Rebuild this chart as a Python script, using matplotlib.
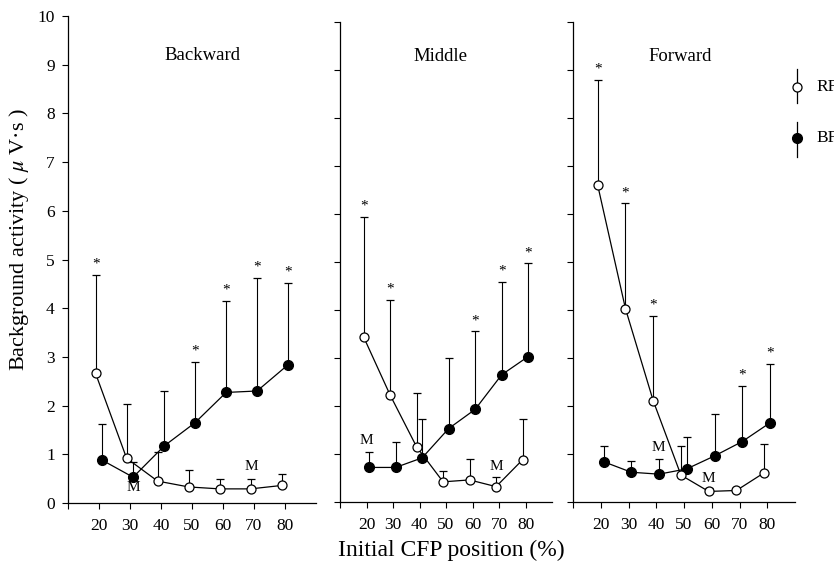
"background activity vs initial CFP position, 3 panels"
import numpy as np
import matplotlib.pyplot as plt

plt.rcParams['font.family'] = ['Liberation Serif', 'DejaVu Serif']
plt.rcParams['mathtext.fontset'] = 'stix'

"data"
positions = [20, 30, 40, 50, 60, 70, 80]

# Backward
back_rf = [2.66, 0.92, 0.45, 0.33, 0.29, 0.29, 0.36]
back_rf_top = [4.68, 2.03, 1.05, 0.68, 0.50, 0.50, 0.60]
back_bf = [0.88, 0.53, 1.17, 1.65, 2.27, 2.30, 2.84]
back_bf_top = [1.62, 0.85, 2.30, 2.90, 4.15, 4.62, 4.52]
back_star_rf = [20]
back_star_bf = [50, 60, 70, 80]
back_m_x = [31, 69]
back_m_y = [0.31, 0.74]

# Middle
mid_rf = [3.44, 2.23, 1.15, 0.42, 0.46, 0.32, 0.88]
mid_rf_top = [5.94, 4.21, 2.28, 0.65, 0.90, 0.53, 1.72]
mid_bf = [0.72, 0.72, 0.92, 1.53, 1.93, 2.65, 3.03]
mid_bf_top = [1.05, 1.26, 1.72, 3.00, 3.56, 4.59, 4.97]
mid_star_rf = [20, 30]
mid_star_bf = [60, 70, 80]
mid_m_x = [20, 69]
mid_m_y = [1.29, 0.73]

# Forward
fwd_rf = [6.60, 4.03, 2.11, 0.56, 0.22, 0.24, 0.61]
fwd_rf_top = [8.80, 6.22, 3.88, 1.17, 0.30, 0.30, 1.21]
fwd_bf = [0.84, 0.62, 0.58, 0.69, 0.96, 1.26, 1.65]
fwd_bf_top = [1.17, 0.85, 0.90, 1.36, 1.83, 2.42, 2.88]
fwd_star_rf = [20, 30, 40]
fwd_star_bf = [70, 80]
fwd_m_x = [40.9, 58.7]
fwd_m_y = [1.14, 0.48]

panels = [
    ('Backward', back_rf, back_rf_top, back_bf, back_bf_top, back_star_rf, back_star_bf, back_m_x, back_m_y),
    ('Middle', mid_rf, mid_rf_top, mid_bf, mid_bf_top, mid_star_rf, mid_star_bf, mid_m_x, mid_m_y),
    ('Forward', fwd_rf, fwd_rf_top, fwd_bf, fwd_bf_top, fwd_star_rf, fwd_star_bf, fwd_m_x, fwd_m_y),
]

"layout"
W, H = 834, 564
fig = plt.figure(figsize=(W / 100, H / 100), dpi=100)
# left, right, top, bottom in pixels
boxes = [(68, 316, 16, 503), (340, 552, 22, 502), (573, 795, 22, 502)]
title_pos = [(0.544, 0.918), (0.476, 0.929), (0.482, 0.929)]

x = np.array(positions, dtype=float)
for i, (name, rf, rf_top, bf, bf_top, star_rf, star_bf, m_x, m_y) in enumerate(panels):
    l, r, t, b = boxes[i]
    ax = fig.add_axes([l / W, 1 - b / H, (r - l) / W, (b - t) / H])
    rf = np.array(rf); rf_top = np.array(rf_top)
    bf = np.array(bf); bf_top = np.array(bf_top)
    xo = x - 1.1
    xf = x + 1.0

    # error bars (upward only)
    ax.vlines(xo, rf, rf_top, color='k', lw=0.8, zorder=1)
    ax.vlines(xf, bf, bf_top, color='k', lw=0.8, zorder=1)
    ax.plot(xo, rf_top, ls='none', marker='_', ms=6, mew=0.9, color='k', zorder=1)
    ax.plot(xf, bf_top, ls='none', marker='_', ms=6, mew=0.9, color='k', zorder=1)

    ax.plot(xf, bf, '-o', color='k', lw=0.9, ms=7, mfc='k', mec='k', zorder=2)
    ax.plot(xo, rf, '-o', color='k', lw=0.9, ms=6.5, mfc='white', mec='k', mew=0.9, zorder=3)

    # asterisks
    for p in star_rf:
        k = positions.index(p)
        ax.text(xo[k], rf_top[k] + 0.22, '*', ha='center', va='center', fontsize=11)
    for p in star_bf:
        k = positions.index(p)
        ax.text(xf[k], bf_top[k] + 0.22, '*', ha='center', va='center', fontsize=11)
    for mx, my in zip(m_x, m_y):
        ax.text(mx, my, 'M', ha='center', va='center', fontsize=11)

    ax.text(title_pos[i][0], title_pos[i][1], name, transform=ax.transAxes,
            ha='center', va='center', fontsize=13.5)

    ax.set_xlim(10, 90)
    ax.set_ylim(0, 10)
    ax.set_xticks([10] + positions)
    ax.set_xticklabels([''] + [str(p) for p in positions])
    ax.set_yticks(range(0, 11))
    if i == 0:
        ax.set_yticklabels([str(v) for v in range(0, 11)])
    else:
        ax.set_yticklabels([])
    ax.spines['top'].set_visible(False)
    ax.spines['right'].set_visible(False)
    for s in ['left', 'bottom']:
        ax.spines[s].set_linewidth(0.9)
    ax.tick_params(axis='both', direction='out', length=4.5, width=0.8, labelsize=12.5)
    ax.tick_params(axis='x', pad=6)
    ax.tick_params(axis='y', pad=5)

fig.text(19 / W, 1 - 239 / H, 'Background activity ( $\\mu$ V·s )', rotation=90,
         ha='center', va='center', fontsize=16)
fig.text(451 / W, 1 - 550 / H, 'Initial CFP position (%)', ha='center', va='center', fontsize=17)

"legend drawn at right edge (labels run off the edge as in the reference)"
leg = fig.add_axes([0, 0, 1, 1], facecolor='none')
leg.set_xlim(0, W); leg.set_ylim(H, 0); leg.axis('off')
leg.plot([797, 797], [69, 103], color='k', lw=0.9)
leg.plot([797], [87], 'o', ms=6.5, mfc='white', mec='k', mew=0.9)
leg.plot([797, 797], [122, 157], color='k', lw=0.9)
leg.plot([797], [138], 'o', ms=7, mfc='k', mec='k')
leg.text(816, 87, 'RF', va='center', ha='left', fontsize=12.5)
leg.text(816, 138, 'BF', va='center', ha='left', fontsize=12.5)

fig.savefig('out.png', dpi=100)
